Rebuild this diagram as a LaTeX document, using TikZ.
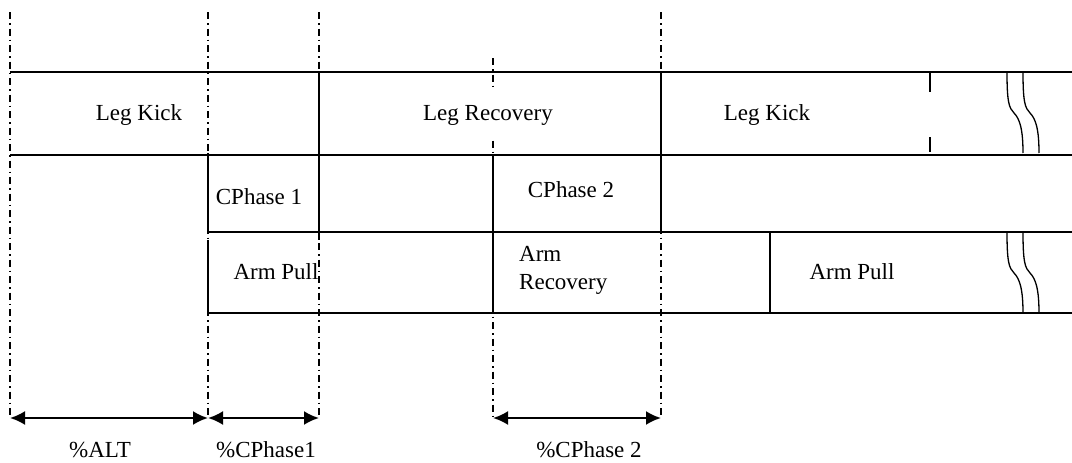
\documentclass[tikz,border=0pt]{standalone}
\usepackage{fontspec}
\setmainfont{Liberation Serif}
\usepackage{tikz}
\usetikzlibrary{calc,arrows.meta}

\tikzset{
  phaseline/.style={line width=1.5pt},
  bar/.style={line width=2pt},
  guide/.style={line width=1.6pt,dash pattern=on 7pt off 4pt on 1.5pt off 4pt},
  span/.style={line width=2.2pt,{Latex[length=15pt,width=14pt]}-{Latex[length=15pt,width=14pt]}},
  lbl/.style={inner sep=0pt,font=\fontsize{23}{28}\selectfont},
  brk/.style={line width=1.3pt}
}

\begin{document}
\begin{tikzpicture}[x=1pt,y=-1pt]
\useasboundingbox (0,0) rectangle (1072,463);
%guide lines
\coordinate (g0t) at (10,12);   \coordinate (g0b) at (10,418);
\coordinate (g1t) at (208,12);  \coordinate (g1b) at (208,418);
\coordinate (g2t) at (319,12);  \coordinate (g2b) at (319,418);
\coordinate (g3t) at (493,58);  \coordinate (g3b) at (493,418);
\coordinate (g4t) at (661,12);  \coordinate (g4b) at (661,418);
\draw[guide] (g0t) -- (g0b);
\draw[guide] (g1t) -- (g1b);
\draw[guide] (g2t) -- (g2b);
\draw[guide] (g3t) -- (g3b);
\draw[guide] (g4t) -- (g4b);
%leg row
\draw[phaseline] (10,72) -- (1072,72);
\draw[phaseline] (10,155) -- (1072,155);
\draw[bar] (319,72) -- (319,240);
\draw[bar] (661,72) -- (661,232);
\draw[bar] (930,72) -- (930,92);
\draw[bar] (930,137) -- (930,152);
%cphase row
\draw[phaseline] (208,232) -- (1072,232);
\draw[bar] (208,153) -- (208,232);
\draw[bar] (493,155) -- (493,313);
%arm row
\draw[phaseline] (208,313) -- (1072,313);
\draw[bar] (208,240) -- (208,315);
\draw[bar] (770,232) -- (770,313);
%breaks
\foreach \y in {72,232}
  \foreach \x in {1007,1023}
    \draw[brk] (\x,\y) .. controls (\x,\y+30) and (\x+2,\y+36) .. (\x+7,\y+41)
      .. controls (\x+13,\y+47) and (\x+16,\y+58) .. (\x+16,\y+81);
%labels
\node[lbl] (kick1) at (139,115) {Leg Kick};
\node[lbl,fill=white,inner ysep=14pt] (recov) at (488,115) {Leg Recovery};
\node[lbl] (kick2) at (767,115) {Leg Kick};
\node[lbl] (cph1) at (259,197) {CPhase 1};
\node[lbl] (cph2) at (571,190) {CPhase 2};
\node[lbl] (pull1) at (276,272) {Arm Pull};
\node[lbl,align=left,anchor=west,font=\fontsize{23}{28}\selectfont] (armrec) at (519,270) {Arm\\Recovery};
\node[lbl] (pull2) at (852,272) {Arm Pull};
%spans
\draw[span] (g0b) -- (g1b);
\draw[span] (g1b) -- (g2b);
\draw[span] (g3b) -- (g4b);
\node[lbl] (alt) at (100,450) {\%ALT};
\node[lbl] (pc1) at (266,450) {\%CPhase1};
\node[lbl] (pc2) at (589,450) {\%CPhase 2};
\end{tikzpicture}
\end{document}
